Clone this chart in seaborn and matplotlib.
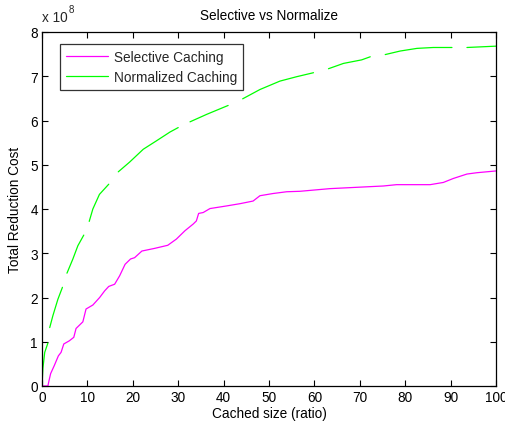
import numpy as np
import pandas as pd
import matplotlib
matplotlib.use("Agg")
import matplotlib.pyplot as plt
import seaborn as sns

# ---- data (y in units of 1e8) ----
sel_x = [0, 1.3, 1.5, 1.9, 2.7, 3.6, 4.2, 4.8, 6.0, 7.0, 7.5, 9.0, 9.7, 11.2, 12.7, 13.8,
         14.7, 16.0, 17.1, 18.3, 19.5, 20.4, 22.0, 24.8, 27.7, 29.6, 31.5, 33.3, 34.0, 34.5,
         35.5, 37.0, 40.7, 43.6, 46.5, 48.0, 50.9, 53.9, 56.8, 63.4, 69.3, 75.2, 78.1, 85.5,
         88.4, 90.6, 93.6, 95.8, 100]
sel_y = [0, 0, 0.10, 0.28, 0.46, 0.68, 0.76, 0.95, 1.02, 1.10, 1.30, 1.45, 1.74, 1.83, 2.00, 2.15,
         2.25, 2.30, 2.49, 2.75, 2.87, 2.90, 3.05, 3.11, 3.18, 3.32, 3.51, 3.66, 3.73, 3.90,
         3.92, 4.01, 4.07, 4.12, 4.18, 4.30, 4.35, 4.39, 4.40, 4.46, 4.49, 4.52, 4.55, 4.55,
         4.60, 4.69, 4.79, 4.82, 4.86]

nan = np.nan
norm_x = [0, 0.2, 0.6, 1.3, nan, 1.7, 2.4, 3.5, 4.5, nan, 5.5, 6.8, 7.9, 9.2, nan,
          10.4, 11.2, 12.65, 14.7, nan, 16.8, 19.3, 22.3, 25.2, 28.2, 30.0, nan,
          32.6, 36.3, 41.0, nan, 44.2, 48.0, 52.4, 56.1, 59.8, nan, 63.1, 66.4, 70.4, 72.3, nan,
          75.6, 78.9, 82.6, 86.2, 90.3, nan, 93.6, 100]
norm_y = [0, 0.40, 0.76, 0.97, nan, 1.32, 1.59, 1.96, 2.23, nan, 2.55, 2.87, 3.17, 3.41, nan,
          3.72, 4.00, 4.33, 4.56, nan, 4.84, 5.06, 5.35, 5.54, 5.74, 5.84, nan,
          5.97, 6.14, 6.34, nan, 6.49, 6.70, 6.89, 6.99, 7.08, nan, 7.17, 7.29, 7.37, 7.44, nan,
          7.49, 7.57, 7.63, 7.65, 7.65, nan, 7.65, 7.68]

series_names = ["Selective Caching", "Normalized Caching"]
x_ticks = list(range(0, 101, 10))
y_ticks = list(range(0, 9))

# ---- build long table with segment ids ----
def to_frame(xs, ys, name):
    xs = np.asarray(xs, float); ys = np.asarray(ys, float)
    seg = np.cumsum(np.isnan(xs))
    df = pd.DataFrame({"x": xs, "y": ys, "series": name, "seg": [f"{name}-{s}" for s in seg]})
    return df.dropna()

df = pd.concat([to_frame(sel_x, sel_y, series_names[0]),
                to_frame(norm_x, norm_y, series_names[1])], ignore_index=True)

sns.set_theme(style="white")
plt.rcParams["font.family"] = ["Liberation Sans", "DejaVu Sans"]
FS = 9.8

fig = plt.figure(figsize=(5.05, 4.27), dpi=100)
ax = fig.add_axes([42/505, 1-387/427, (496-42)/505, (387-33)/427])

sns.lineplot(data=df, x="x", y="y", hue="series", units="seg", estimator=None,
             palette={series_names[0]: "#FF00FF", series_names[1]: "#00FF00"},
             hue_order=series_names, linewidth=0.9, ax=ax, sort=False)

ax.set_xlim(0, 100)
ax.set_ylim(0, 8)
ax.set_xticks(x_ticks)
ax.set_yticks(y_ticks)
ax.set_xticklabels([str(t) for t in x_ticks])
ax.set_yticklabels([str(t) for t in y_ticks])
ax.tick_params(direction="in", length=4, width=0.8, colors="black", labelsize=FS,
               top=True, right=True, bottom=True, left=True)
ax.tick_params(axis="x", pad=3)
ax.tick_params(axis="y", pad=3)
for s in ax.spines.values():
    s.set_visible(True)
    s.set_color("black")
    s.set_linewidth(0.9)

ax.set_xlabel("Cached size (ratio)", fontsize=FS, color="black", labelpad=1)
ax.set_ylabel("Total Reduction Cost", fontsize=FS, color="black", labelpad=6)
ax.set_title("Selective vs Normalize", fontsize=FS, color="black", pad=9)

fig.text(42/505, 1-22/427, "x 10", fontsize=FS, ha="left", va="baseline")
fig.text(69/505, 1-13/427, "8", fontsize=7, ha="left", va="baseline")

leg = ax.legend(loc="upper left", bbox_to_anchor=(18/454, 1-12/354), borderaxespad=0,
                fontsize=FS, frameon=True, fancybox=False, handlelength=3.1,
                handletextpad=0.4, labelspacing=0.45, borderpad=0.45, title=None)
leg.get_frame().set_edgecolor("black")
leg.get_frame().set_linewidth(0.9)
for line in leg.get_lines():
    line.set_linewidth(0.9)

fig.savefig("out.png", dpi=100)
